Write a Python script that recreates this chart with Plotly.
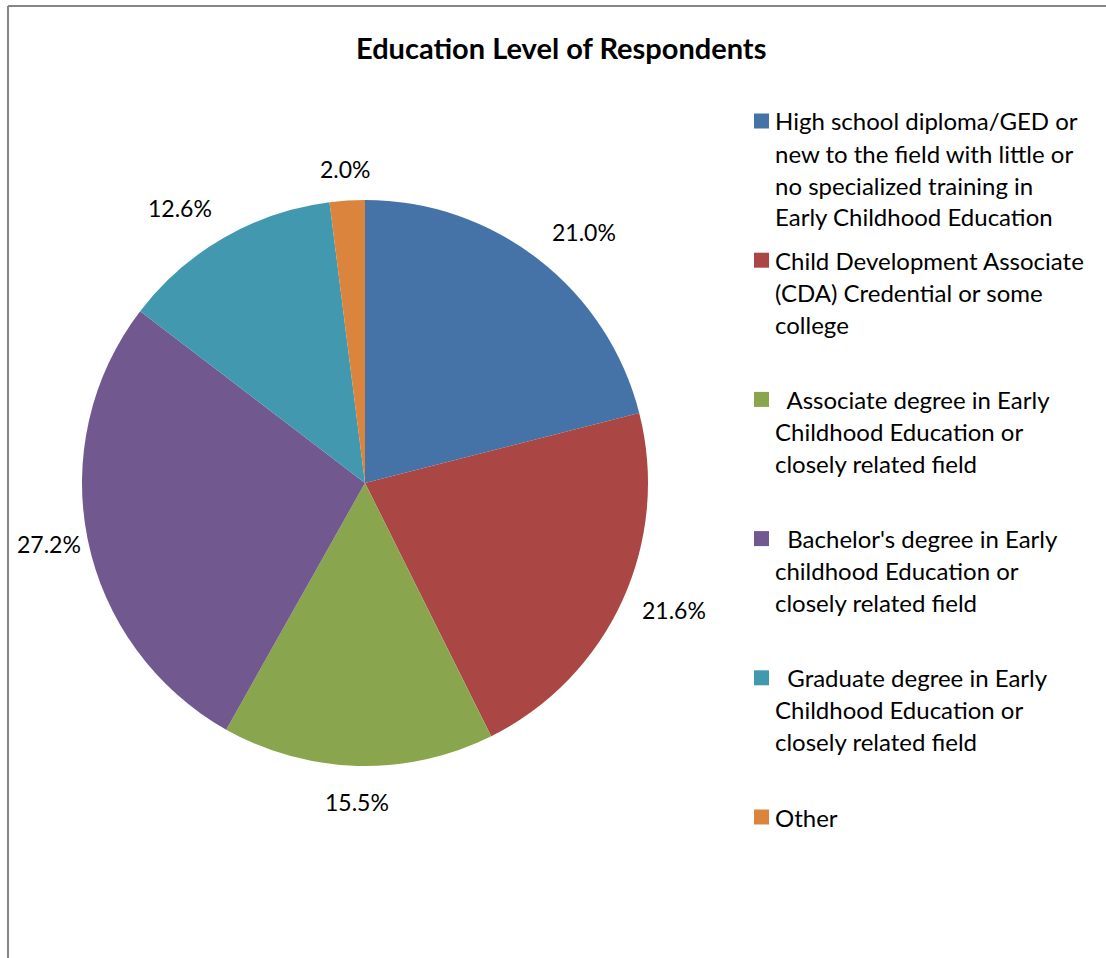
import math
import plotly.graph_objects as go

# Survey results: share of respondents by education level (percent)
categories = [
    "High school diploma/GED or new to the field with little or no specialized training in Early Childhood Education",
    "Child Development Associate (CDA) Credential or some college",
    "Associate degree in Early Childhood Education or closely related field",
    "Bachelor's degree in Early childhood Education or closely related field",
    "Graduate degree in Early Childhood Education or closely related field",
    "Other",
]
shares = [21.0, 21.6, 15.5, 27.2, 12.6, 2.0]
colors = ["#4572A7", "#AA4643", "#89A54E", "#71588F", "#4198AF", "#DB843D"]

# Legend text, wrapped as it appears beside the pie
legend_lines = [
    ["High school diploma/GED or", "new to the field with little or",
     "no specialized training in", "Early Childhood Education"],
    ["Child Development Associate", "(CDA) Credential or some", "college"],
    ["\u00a0\u00a0Associate degree in Early", "Childhood Education or", "closely related field"],
    ["\u00a0\u00a0Bachelor's degree in Early", "childhood Education or", "closely related field"],
    ["\u00a0\u00a0Graduate degree in Early", "Childhood Education or", "closely related field"],
    ["Other"],
]

W, H = 1106, 958
FONT = "Lato, 'Open Sans', sans-serif"

# Pie geometry in pixels
CX, CY, R = 365, 483, 283


def px(x):
    return x / W


def py(y):
    return 1 - y / H


fig = go.Figure(
    go.Pie(
        labels=categories,
        values=shares,
        sort=False,
        direction="clockwise",
        rotation=0,
        marker=dict(colors=colors, line=dict(width=0)),
        textinfo="none",
        hoverinfo="label+percent",
        showlegend=False,
        domain=dict(x=[px(CX - R), px(CX + R)], y=[py(CY + R), py(CY - R)]),
    )
)

annotations = []

# Percentage labels placed outside each slice along its mid-angle
total = sum(shares)
cum = 0.0
LABEL_R = 304
LABEL_W = 66
for v in shares:
    mid = (cum + v / 2) / total * 2 * math.pi
    cum += v
    s, c = math.sin(mid), math.cos(mid)
    x = CX + LABEL_R * s
    y = CY - LABEL_R * c
    if s > 0.3:
        xa = "left"
    elif s < -0.3:
        xa = "right"
        if x - LABEL_W < 16:
            x, xa = 16, "left"
    else:
        xa = "center"
    if c > 0.5:
        ya = "bottom"
        y += 4
    elif c < -0.5:
        ya = "top"
    else:
        ya = "middle"
    annotations.append(dict(
        x=px(x), y=py(y), xref="paper", yref="paper",
        xanchor=xa, yanchor=ya, showarrow=False,
        text=f"{v:.1f}%", font=dict(family=FONT, size=23, color="#000000"),
        borderpad=0,
    ))

# Title
annotations.append(dict(
    x=px(561), y=py(47), xref="paper", yref="paper",
    xanchor="center", yanchor="middle", showarrow=False,
    text="<b>Education Level of Respondents</b>",
    font=dict(family=FONT, size=29, color="#000000"),
))

# Legend: colour squares and wrapped labels
shapes = []
ITEM_TOP, ITEM_STEP, LINE_STEP = 121, 139.2, 32
for i, lines in enumerate(legend_lines):
    y0 = ITEM_TOP + i * ITEM_STEP
    shapes.append(dict(
        type="rect", xref="paper", yref="paper",
        x0=px(754), x1=px(769), y0=py(y0 + 7.5), y1=py(y0 - 7.5),
        fillcolor=colors[i], line=dict(width=0),
    ))
    for k, t in enumerate(lines):
        annotations.append(dict(
            x=px(774), y=py(y0 + k * LINE_STEP), xref="paper", yref="paper",
            xanchor="left", yanchor="middle", showarrow=False,
            text=t, font=dict(family=FONT, size=24, color="#000000"),
            borderpad=0,
        ))

# Chart frame (left and top edges)
shapes.append(dict(type="line", xref="paper", yref="paper",
                   x0=px(8), x1=px(8), y0=py(6), y1=0,
                   line=dict(color="#868686", width=2)))
shapes.append(dict(type="line", xref="paper", yref="paper",
                   x0=px(8), x1=1, y0=py(6), y1=py(6),
                   line=dict(color="#868686", width=2)))

fig.update_layout(
    width=W, height=H,
    margin=dict(l=0, r=0, t=0, b=0, pad=0),
    paper_bgcolor="#FFFFFF",
    plot_bgcolor="#FFFFFF",
    annotations=annotations,
    shapes=shapes,
    font=dict(family=FONT),
)

fig.write_html("out.html")
